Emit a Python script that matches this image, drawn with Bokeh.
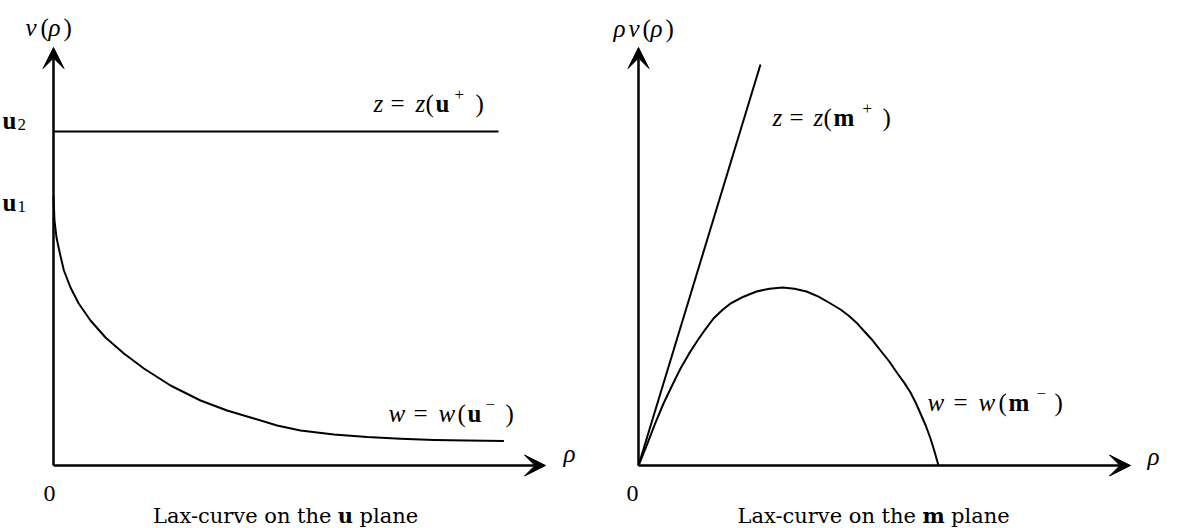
from bokeh.plotting import figure
from bokeh.layouts import row
from bokeh.models import Arrow, VeeHead, Range1d
from bokeh.core.properties import value
from bokeh.embed import file_html
from bokeh.resources import INLINE

# ---------------- data (axis units) ----------------
# left panel: u plane, v(rho)
u_axis_x_end = 12.3
u_axis_y_end = 10.45
u2_level = 8.35
u2_rho = [0.0, 11.125]
wu_rho = [0.0, 0.0075, 0.025, 0.075, 0.16, 0.26, 0.425, 0.63, 0.925, 1.3, 1.76, 2.26,
          2.925, 3.675, 4.34, 5.01, 5.59, 6.175, 7.01, 7.84, 8.675, 9.51, 10.34, 11.26]
wu_v = [6.75, 6.55, 6.125, 5.7, 5.3, 4.875, 4.45, 4.05, 3.625, 3.2, 2.8, 2.425,
        2.0, 1.625, 1.375, 1.175, 1.0, 0.875, 0.775, 0.71, 0.67, 0.64, 0.625, 0.61]

# right panel: m plane, rho v(rho)
m_axis_x_end = 12.3
m_axis_y_end = 10.45
zm_rho = [0.0, 3.05]
zm_q = [0.0, 10.025]
wm_rho = [0.0, 0.22, 0.42, 0.625, 0.84, 1.05, 1.26, 1.475, 1.675, 1.875, 2.09, 2.3,
          2.625, 2.95, 3.275, 3.6, 3.9, 4.2, 4.5, 4.8, 5.05, 5.25, 5.45, 5.625, 5.85,
          6.05, 6.27, 6.475, 6.65, 6.8, 6.93, 7.05, 7.18, 7.3, 7.4, 7.5]
wm_q = [0.0, 0.54, 1.06, 1.55, 2.0, 2.425, 2.79, 3.125, 3.41, 3.675, 3.88, 4.05,
        4.22, 4.35, 4.42, 4.45, 4.42, 4.35, 4.22, 4.05, 3.9, 3.75, 3.57, 3.375, 3.13,
        2.875, 2.6, 2.3, 2.06, 1.825, 1.57, 1.3, 1.0, 0.675, 0.35, 0.0]

MATH = "Liberation Serif"
CAP = "DejaVu Serif"
MS = 25
SUB = 17


def make_fig(width, xstart, xend):
    p = figure(width=width, height=528, x_range=Range1d(xstart, xend),
               y_range=Range1d(-1.575, 11.625), output_backend="svg",
               toolbar_location=None, x_axis_location=None, y_axis_location=None,
               min_border=0, background_fill_color="white", border_fill_color="white")
    p.grid.visible = False
    p.outline_line_color = None
    return p


def axes(p, xe, ye):
    for (x1, y1) in [(xe, 0), (0, ye)]:
        p.add_layout(Arrow(x_start=0, y_start=0, x_end=x1, y_end=y1, line_width=2.5,
                           line_color="black",
                           end=VeeHead(size=21, fill_color="black", line_color="black",
                                       line_width=1)))


def parts(p, x, y, items):
    for (t, dx, dy, size, style) in items:
        p.text(x=[x], y=[y], text=[t], x_offset=dx, y_offset=dy,
               text_font=value(MATH), text_font_size=f"{size}px", text_font_style=style,
               text_baseline="alphabetic", text_align="left", text_color="black")


def caption(p, xc, y, bold, boldw):
    gap = boldw / 2 + 6.5
    common = dict(text_font=value(CAP), text_font_size="21px", text_baseline="alphabetic",
                  text_color="black")
    p.text(x=[xc], y=[y], text=["Lax-curve on the"], x_offset=-gap, text_align="right",
           **common)
    p.text(x=[xc], y=[y], text=[bold], text_align="center", text_font_style="bold",
           **common)
    p.text(x=[xc], y=[y], text=["plane"], x_offset=gap, text_align="left", **common)


# ---------------- left ----------------
pl = make_fig(589, -1.325, 13.4)
axes(pl, u_axis_x_end, u_axis_y_end)
pl.line(u2_rho, [u2_level, u2_level], line_color="black", line_width=2)
pl.line(wu_rho, wu_v, line_color="black", line_width=2, line_join="round")

parts(pl, -0.7, 10.95, [("v", 0, 0, MS, "italic"), ("(", 15, 0, MS, "normal"),
                        ("ρ", 23, 0, MS, "italic"), (")", 38, 0, MS, "normal")])
parts(pl, -1.275, 8.625, [("u", 0, 0, MS, "bold"), ("2", 15, 4, SUB, "normal")])
parts(pl, -1.275, 6.575, [("u", 0, 0, MS, "bold"), ("1", 15, 4, SUB, "normal")])
parts(pl, 8.0, 9.05, [("z", 0, 0, MS, "italic"), ("=", 17, 0, MS, "normal"),
                      ("z", 42, 0, MS, "italic"), ("(", 52, 0, MS, "normal"),
                      ("u", 62, 0, MS, "bold"), ("+", 81, -9, SUB, "normal"),
                      (")", 102, 0, MS, "normal")])
parts(pl, 8.375, 1.3, [("w", 0, 0, MS, "italic"), ("=", 25, 0, MS, "normal"),
                       ("w", 50, 0, MS, "italic"), ("(", 69, 0, MS, "normal"),
                       ("u", 79, 0, MS, "bold"), ("\u2212", 97, -9, SUB, "normal"),
                       (")", 117, 0, MS, "normal")])
parts(pl, 12.75, 0.3, [("ρ", 0, 0, MS, "italic")])
pl.text(x=[-0.1], y=[-0.7], text=["0"], text_font=value(MATH), text_font_size="24px",
        text_align="center", text_baseline="alphabetic", text_color="black")
caption(pl, 7.3, -1.25, "u", 15)

# ---------------- right ----------------
pr = make_fig(590, -1.225, 13.525)
axes(pr, m_axis_x_end, m_axis_y_end)
pr.line(zm_rho, zm_q, line_color="black", line_width=2)
pr.line(wm_rho, wm_q, line_color="black", line_width=2, line_join="round")

parts(pr, -0.625, 10.925, [("ρ", 0, 0, MS, "italic"), ("v", 15, 0, MS, "italic"),
                           ("(", 29, 0, MS, "normal"), ("ρ", 37, 0, MS, "italic"),
                           (")", 52, 0, MS, "normal")])
parts(pr, 3.35, 8.7, [("z", 0, 0, MS, "italic"), ("=", 17, 0, MS, "normal"),
                      ("z", 41, 0, MS, "italic"), ("(", 51, 0, MS, "normal"),
                      ("m", 61, 0, MS, "bold"), ("+", 90, -9, SUB, "normal"),
                      (")", 110, 0, MS, "normal")])
parts(pr, 7.225, 1.575, [("w", 0, 0, MS, "italic"), ("=", 26, 0, MS, "normal"),
                         ("w", 51, 0, MS, "italic"), ("(", 71, 0, MS, "normal"),
                         ("m", 81, 0, MS, "bold"), ("\u2212", 109, -9, SUB, "normal"),
                         (")", 127, 0, MS, "normal")])
parts(pr, 12.725, 0.225, [("ρ", 0, 0, MS, "italic")])
pr.text(x=[-0.15], y=[-0.7], text=["0"], text_font=value(MATH), text_font_size="24px",
        text_align="center", text_baseline="alphabetic", text_color="black")
caption(pr, 7.375, -1.25, "m", 22)

layout = row(pl, pr)
open("out.html", "w").write(file_html(layout, INLINE))
